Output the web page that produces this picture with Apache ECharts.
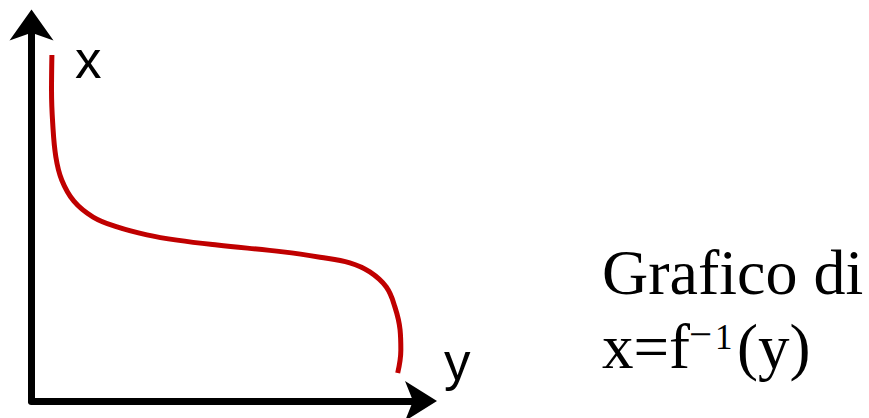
<!DOCTYPE html>
<html>
<head>
<meta charset="utf-8">
<script src="https://cdn.jsdelivr.net/npm/echarts@6/dist/echarts.min.js"></script>
<style>
  html, body { margin: 0; padding: 0; background: #ffffff; }
  #chart { width: 869px; height: 418px; }
</style>
</head>
<body>
<div id="chart"></div>
<script>
// Inverse function x = f^-1(y): horizontal axis is y, vertical axis is x
const yValues = [5.2, 5.1, 5.4, 6.2, 7.7, 10.8, 15.7, 21.8, 29.4, 37.1, 47.3, 64.1, 73.5, 81.1, 86.2, 90.4, 92.6, 93.9, 94.1, 93.3];
const xValues = [91.4, 82.2, 73.4, 64.5, 58.4, 52.8, 48.6, 46.0, 43.9, 42.5, 41.2, 39.4, 38.0, 36.5, 34.1, 30.1, 24.8, 18.8, 13.5, 7.4];

const axisNameX = 'x';
const axisNameY = 'y';
const captionLine1 = 'Grafico di';
const captionMain = 'x=f';
const captionMinus = '\u2212';
const captionExp = '1';
const captionTail = '(y)';

const points = yValues.map((v, i) => [v, xValues[i]]);

const chart = echarts.init(document.getElementById('chart'), null, { renderer: 'svg' });

const sans = '"Liberation Sans", Arial, sans-serif';
const serif = '"Liberation Serif", "Times New Roman", serif';

chart.setOption({
  backgroundColor: '#ffffff',
  animation: false,
  grid: { left: 31.5, right: 445, top: 22.5, bottom: 17, containLabel: false },
  xAxis: {
    type: 'value', min: 0, max: 100,
    axisLine: {
      show: true, onZero: false,
      symbol: ['none', 'arrow'], symbolSize: [30, 32], symbolOffset: [0, 13],
      lineStyle: { color: '#000000', width: 7 }
    },
    axisTick: { show: false }, axisLabel: { show: false }, splitLine: { show: false }
  },
  yAxis: {
    type: 'value', min: 0, max: 100,
    axisLine: {
      show: true, onZero: false,
      symbol: ['none', 'arrow'], symbolSize: [33, 31], symbolOffset: [0, 13],
      lineStyle: { color: '#000000', width: 7 }
    },
    axisTick: { show: false }, axisLabel: { show: false }, splitLine: { show: false }
  },
  series: [{
    type: 'line',
    data: points,
    smooth: 0.4,
    showSymbol: false,
    lineStyle: { color: '#c00000', width: 5, cap: 'butt' },
    silent: true
  }],
  graphic: [
    { type: 'text', left: 75, top: 33, style: { text: axisNameX, font: '53px ' + sans, fill: '#000000' } },
    { type: 'text', left: 444, top: 335, style: { text: axisNameY, font: '53px ' + sans, fill: '#000000' } },
    { type: 'text', left: 602, top: 240, style: { text: captionLine1, font: '64px ' + serif, fill: '#000000' } },
    { type: 'text', left: 602, top: 315, style: { text: captionMain, font: '63px ' + serif, fill: '#000000' } },
    { type: 'text', left: 689, top: 313, style: { text: captionMinus, font: '41px ' + serif, fill: '#000000' } },
    { type: 'text', left: 715, top: 320, style: { text: captionExp, font: '35px ' + serif, fill: '#000000' } },
    { type: 'text', left: 737, top: 315, style: { text: captionTail, font: '63px ' + serif, fill: '#000000' } }
  ]
});
</script>
</body>
</html>
